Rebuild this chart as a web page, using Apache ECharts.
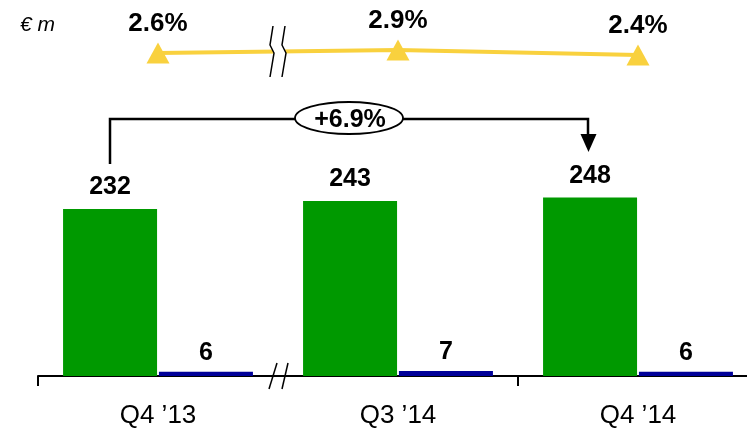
<!DOCTYPE html>
<html>
<head>
<meta charset="utf-8">
<script src="https://cdn.jsdelivr.net/npm/echarts@6/dist/echarts.min.js"></script>
<style>
html, body { margin: 0; padding: 0; background: #fff; }
#main { width: 747px; height: 429px; }
</style>
</head>
<body>
<div id="main"></div>
<script>
// 数据
var categories = ['Q4 \u201913', 'Q3 \u201914', 'Q4 \u201914'];
var mainValues = [232, 243, 248];
var smallValues = [6, 7, 6];
var marginPct = [2.6, 2.9, 2.4];
var growthText = '+6.9%';
var unitText = '\u20ac m';

var FONT = '"Liberation Sans", Arial, sans-serif';
var YELLOW = '#F9D13E';

var chart = echarts.init(document.getElementById('main'), null, {renderer: 'canvas'});

//折线上的百分比标签
var pctLabel = {
	show: true, position: 'top', distance: 6,
	fontFamily: FONT, fontSize: 26, fontWeight: 'bold', color: '#000',
	formatter: function(p){ return p.value.toFixed(1) + '%'; }
};

var option = {
	animation: false,
	backgroundColor: '#fff',
	grid: [
		{left: 38, width: 720, top: 160, height: 216, outerBoundsMode: 'none'},
		{left: 38, width: 720, top: 29, height: 50, outerBoundsMode: 'none'}
	],
	xAxis: [{
		gridIndex: 0, type: 'category', data: categories, boundaryGap: true,
		axisLine: {lineStyle: {color: '#000', width: 2}},
		axisTick: {show: true, length: 10, inside: false, lineStyle: {color: '#000', width: 2},
			interval: function(i){ return i !== 1; }},
		axisLabel: {margin: 27, fontFamily: FONT, fontSize: 26, color: '#000'}
	}, {
		gridIndex: 1, type: 'category', data: categories, boundaryGap: true, show: false
	}],
	yAxis: [{
		gridIndex: 0, type: 'value', min: 0, max: 300, show: false, splitLine: {show: false}
	}, {
		gridIndex: 1, type: 'value', min: 0, max: 5, show: false, splitLine: {show: false}
	}],
	series: [{
		type: 'bar', xAxisIndex: 0, yAxisIndex: 0, data: mainValues,
		barWidth: 94, barGap: '2%',
		itemStyle: {color: '#009900'},
		label: {show: true, position: 'top', distance: 9, fontFamily: FONT, fontSize: 25, fontWeight: 'bold', color: '#000'}
	}, {
		type: 'bar', xAxisIndex: 0, yAxisIndex: 0, data: smallValues,
		barWidth: 94,
		itemStyle: {color: '#000099'},
		label: {show: true, position: 'top', distance: 6, fontFamily: FONT, fontSize: 25, fontWeight: 'bold', color: '#000'}
	}, {
		type: 'line', xAxisIndex: 1, yAxisIndex: 1, data: marginPct,
		symbol: 'triangle', symbolSize: [23, 21],
		lineStyle: {color: YELLOW, width: 4},
		itemStyle: {color: YELLOW},
		label: pctLabel
	}],
	graphic: [
		//单位
		{type: 'text', left: 20, top: 15, z: 100,
			style: {text: unitText, font: 'italic 21px ' + FONT, fill: '#000'}},
		//上方断轴
		{type: 'polygon', z: 99, shape: {points: [[273, 26], [270, 45], [274, 53], [270, 77], [282, 77], [286, 53], [282, 45], [285, 26]]},
			style: {fill: '#fff'}},
		{type: 'polyline', z: 100, shape: {points: [[273, 26], [270, 45], [274, 53], [270, 77]]},
			style: {stroke: '#000', lineWidth: 1.5, fill: null}},
		{type: 'polyline', z: 100, shape: {points: [[285, 26], [282, 45], [286, 53], [282, 77]]},
			style: {stroke: '#000', lineWidth: 1.5, fill: null}},
		//下方断轴
		{type: 'line', z: 100, shape: {x1: 277, y1: 363, x2: 269, y2: 389}, style: {stroke: '#000', lineWidth: 1.5}},
		{type: 'line', z: 100, shape: {x1: 288, y1: 363, x2: 282, y2: 389}, style: {stroke: '#000', lineWidth: 1.5}},
		//增长括号
		{type: 'polyline', z: 100, shape: {points: [[110, 164], [110, 119], [588, 119], [588, 137]]},
			style: {stroke: '#000', lineWidth: 2.5, fill: null}},
		{type: 'polygon', z: 100, shape: {points: [[580.5, 134], [596.5, 134], [588.5, 152]]},
			style: {fill: '#000'}},
		{type: 'ellipse', z: 101, shape: {cx: 349, cy: 118, rx: 54, ry: 16},
			style: {fill: '#fff', stroke: '#000', lineWidth: 1.8}},
		{type: 'text', z: 102, x: 350, y: 120,
			style: {text: growthText, font: 'bold 25px ' + FONT, fill: '#000', align: 'center', verticalAlign: 'middle'}}
	]
};

chart.setOption(option);
</script>
</body>
</html>
